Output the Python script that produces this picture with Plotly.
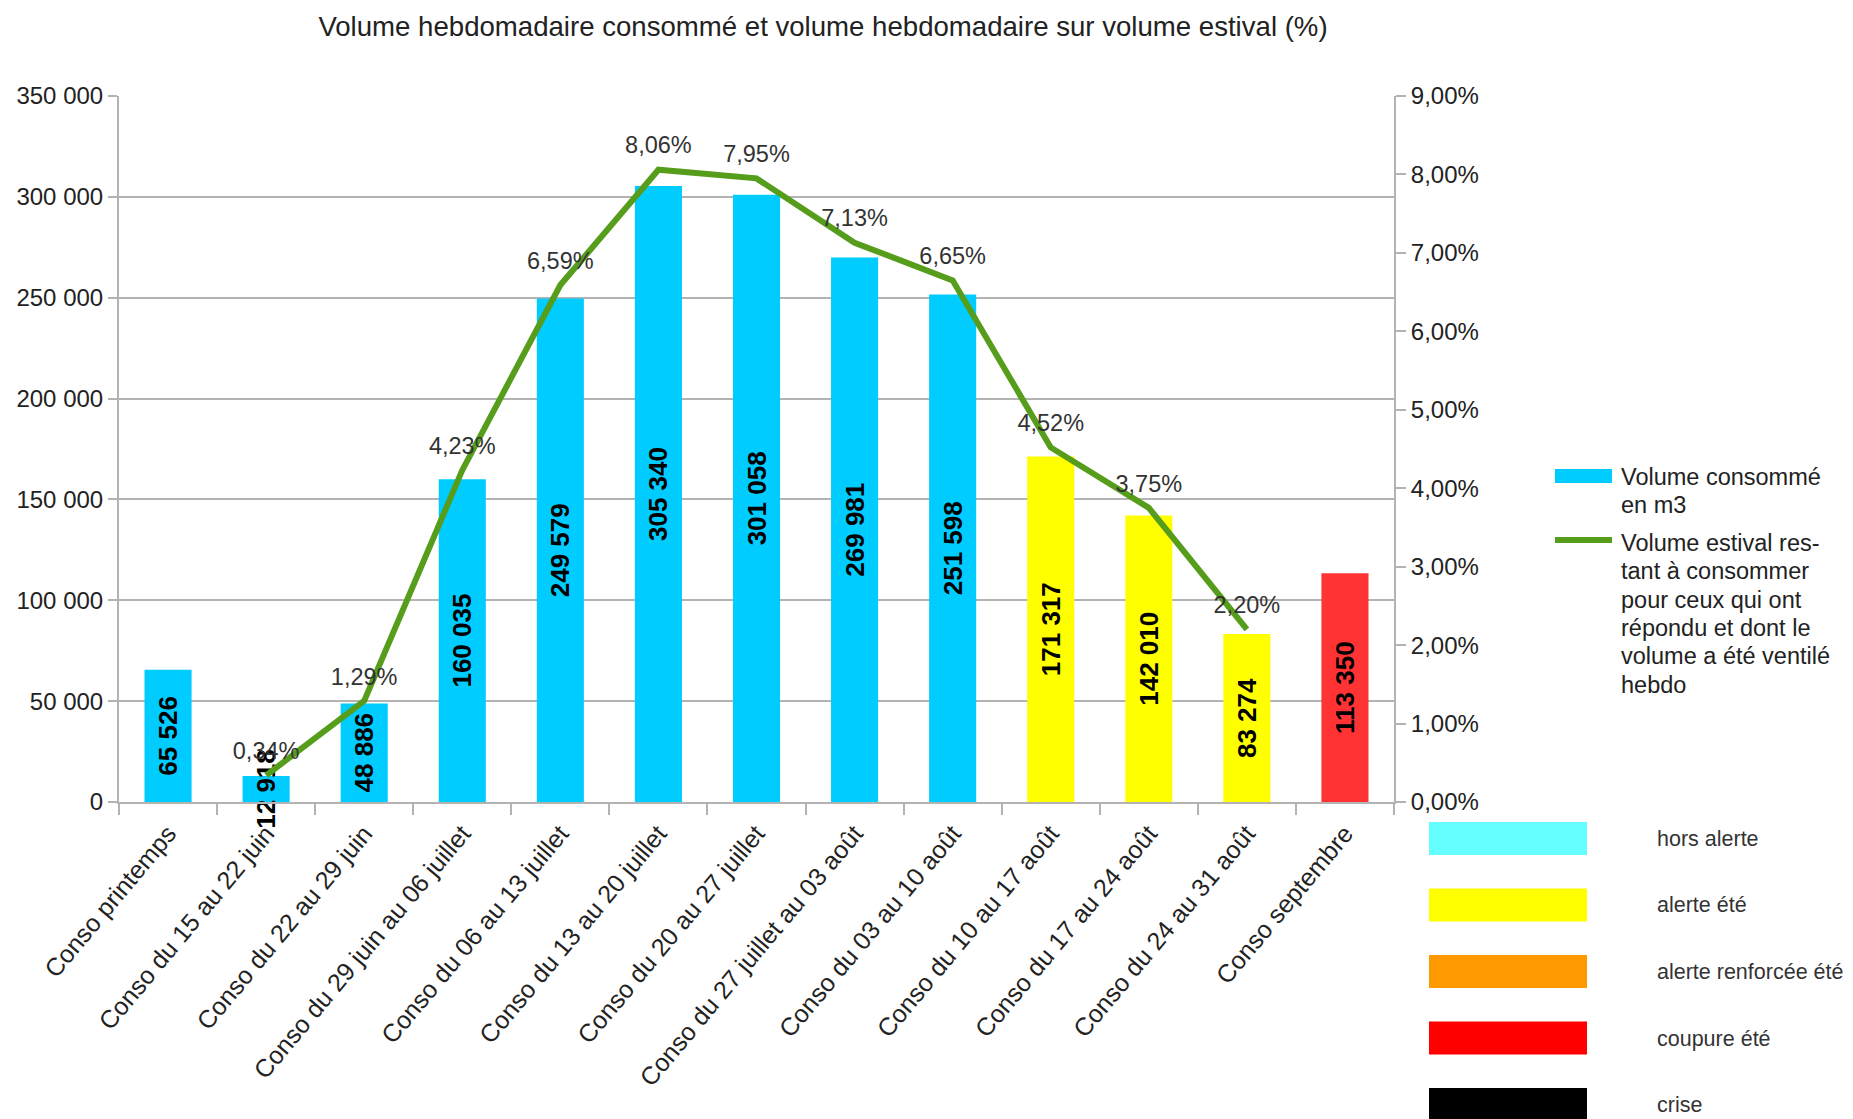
import plotly.graph_objects as go

# ---- data ---------------------------------------------------------------
semaines = [
    "Conso printemps",
    "Conso du 15 au 22 juin",
    "Conso du 22 au 29 juin",
    "Conso du 29 juin au 06 juillet",
    "Conso du 06 au 13 juillet",
    "Conso du 13 au 20 juillet",
    "Conso du 20 au 27 juillet",
    "Conso du 27 juillet au 03 août",
    "Conso du 03 au 10 août",
    "Conso du 10 au 17 août",
    "Conso du 17 au 24 août",
    "Conso du 24 au 31 août",
    "Conso septembre",
]
volume_m3 = [65526, 12918, 48886, 160035, 249579, 305340, 301058,
             269981, 251598, 171317, 142010, 83274, 113350]
part_estivale_pct = [None, 0.34, 1.29, 4.23, 6.59, 8.06, 7.95,
                     7.13, 6.65, 4.52, 3.75, 2.20, None]
niveau_alerte = ["hors alerte"] * 9 + ["alerte été"] * 3 + ["coupure été"]

y_ticks = [0, 50000, 100000, 150000, 200000, 250000, 300000, 350000]
y2_ticks = [0, 1, 2, 3, 4, 5, 6, 7, 8, 9]
y2_ticktext = [f"{v:.2f}%".replace(".", ",") for v in y2_ticks]

legende_series = [
    ["Volume consommé", "en m3"],
    ["Volume estival res-", "tant à consommer", "pour ceux qui ont",
     "répondu et dont le", "volume a été ventilé", "hebdo"],
]
legende_niveaux = ["hors alerte", "alerte été", "alerte renforcée été",
                   "coupure été", "crise"]

# ---- styles -------------------------------------------------------------
FONT = "Liberation Sans, Arial, sans-serif"
GRID = "#b3b3b3"
TXT = "#222222"
bar_colors = {"hors alerte": "#00ccff", "alerte été": "#ffff00",
              "coupure été": "#ff3333"}
swatch_colors = {"hors alerte": "#66ffff", "alerte été": "#ffff00",
                 "alerte renforcée été": "#ff9900", "coupure été": "#ff0000",
                 "crise": "#000000"}
LINE_GREEN = "#579d1c"

W, H = 1853, 1119
L, R, T, B = 119, 1394, 96, 802  # plot area in pixels


def px_x(px):
    return (px - L) / (R - L)


def px_y(py):
    return (B - py) / (B - T)


fig = go.Figure()

fig.add_trace(go.Bar(
    x=semaines, y=volume_m3,
    marker=dict(color=[bar_colors[n] for n in niveau_alerte], line=dict(width=0)),
    texttemplate="%{y:,d}", textposition="inside", textangle=-90,
    insidetextanchor="middle", constraintext="none",
    textfont=dict(family=FONT, size=26, color="#000000", weight="bold"),
    cliponaxis=False, showlegend=False,
    name="Volume consommé en m3",
))

fig.add_trace(go.Scatter(
    x=semaines, y=part_estivale_pct, yaxis="y2",
    mode="lines+markers+text", line=dict(color=LINE_GREEN, width=6),
    marker=dict(size=15, color="rgba(0,0,0,0)", line=dict(width=0)),
    texttemplate="%{y:.2f}%", textposition="top center",
    textfont=dict(family=FONT, size=23.5, color="#333333"),
    cliponaxis=False, showlegend=False,
    name="Volume estival restant à consommer",
))

shapes = []
annotations = []

# legend for the two series
shapes.append(dict(type="rect", xref="paper", yref="paper",
                   x0=px_x(1555), x1=px_x(1612), y0=px_y(469), y1=px_y(483),
                   fillcolor="#00ccff", line=dict(width=0)))
shapes.append(dict(type="line", xref="paper", yref="paper",
                   x0=px_x(1555), x1=px_x(1612), y0=px_y(540), y1=px_y(540),
                   line=dict(color=LINE_GREEN, width=6)))
for first_line, lines in zip([477, 543], legende_series):
    for k, line in enumerate(lines):
        annotations.append(dict(xref="paper", yref="paper",
                                x=px_x(1619), y=px_y(first_line + k * 28.3),
                                xanchor="left", yanchor="middle", showarrow=False,
                                text=line,
                                font=dict(family=FONT, size=23.5, color=TXT)))

# alert level key
for i, niveau in enumerate(legende_niveaux):
    top = 822 + i * 66.5
    shapes.append(dict(type="rect", xref="paper", yref="paper",
                       x0=px_x(1429), x1=px_x(1587), y0=px_y(top), y1=px_y(top + 33),
                       fillcolor=swatch_colors[niveau], line=dict(width=0)))
    annotations.append(dict(xref="paper", yref="paper", x=px_x(1655), y=px_y(top + 17),
                            xanchor="left", yanchor="middle", showarrow=False,
                            text=niveau, font=dict(family=FONT, size=21.5, color="#333333")))

fig.update_layout(
    width=W, height=H,
    margin=dict(l=L, r=W - R, t=T, b=H - B, pad=0),
    paper_bgcolor="white", plot_bgcolor="white",
    separators=", ",
    bargap=0.52,
    font=dict(family=FONT, size=24, color=TXT),
    title=dict(text="Volume hebdomadaire consommé et volume hebdomadaire sur volume estival (%)",
               x=823 / W, xanchor="center", xref="container",
               y=1 - 26 / H, yanchor="middle",
               font=dict(family=FONT, size=27.6, color=TXT)),
    xaxis=dict(
        type="category", range=[-0.5, len(semaines) - 0.5], autorange=False,
        tickangle=-50, tickson="boundaries", ticklabelstandoff=5,
        ticks="outside", ticklen=11, tickcolor=GRID, tickwidth=2,
        showline=True, linecolor=GRID, linewidth=2, showgrid=False,
        tickfont=dict(family=FONT, size=25, color=TXT),
    ),
    yaxis=dict(
        range=[0, 350000], tickvals=y_ticks, tickformat=",d",
        showgrid=True, gridcolor=GRID, gridwidth=2,
        showline=True, linecolor=GRID, linewidth=2,
        ticks="outside", ticklen=9, tickcolor=GRID, tickwidth=2,
        zeroline=False, tickfont=dict(family=FONT, size=24, color=TXT),
    ),
    yaxis2=dict(
        range=[0, 9], tickvals=y2_ticks, ticktext=y2_ticktext,
        overlaying="y", side="right", showgrid=False,
        showline=True, linecolor=GRID, linewidth=2,
        ticks="outside", ticklen=10, tickcolor=GRID, tickwidth=2,
        zeroline=False, tickfont=dict(family=FONT, size=24, color=TXT),
    ),
    shapes=shapes,
    annotations=annotations,
)

fig.write_html("out.html")
